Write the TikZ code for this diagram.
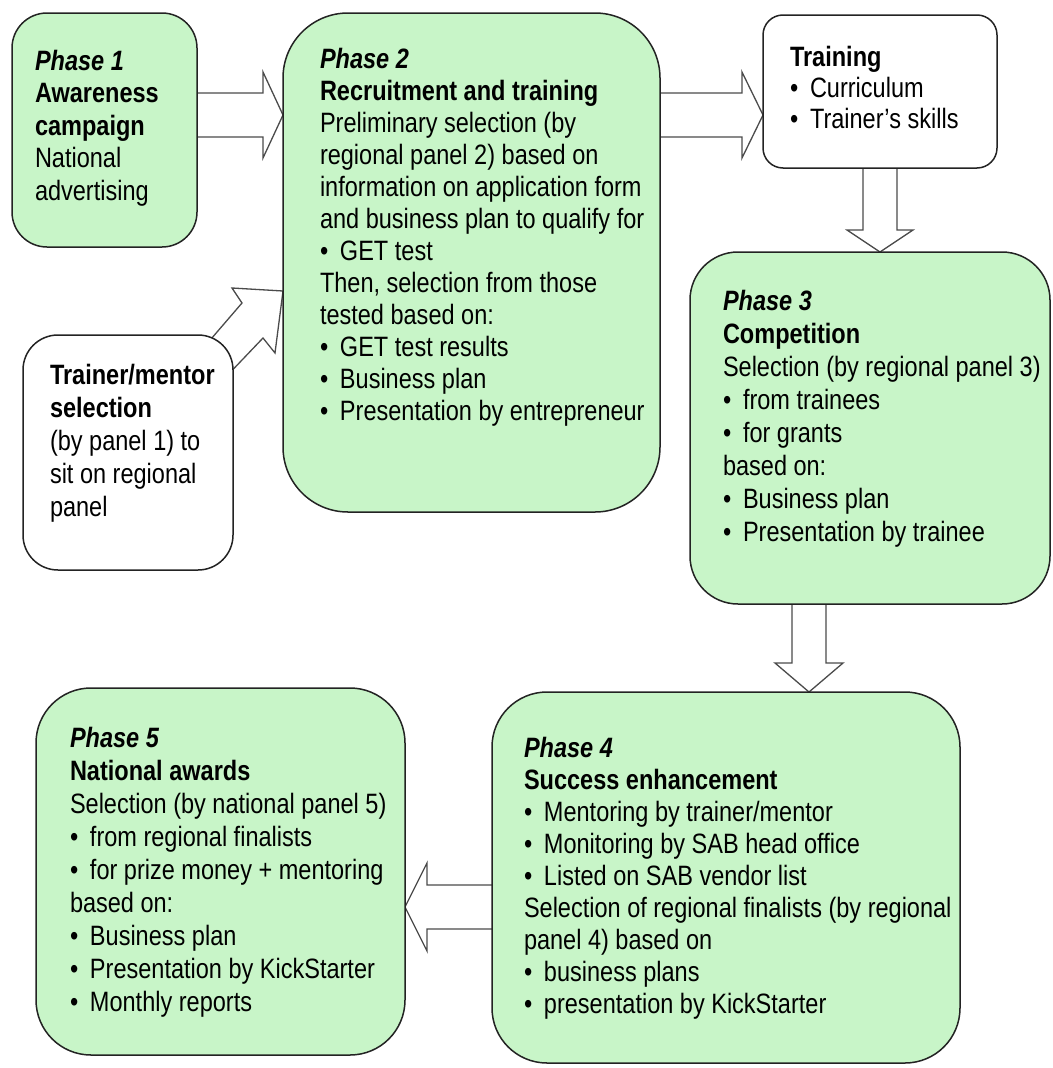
\documentclass[tikz,border=0pt]{standalone}
\usepackage{fontspec}
\setmainfont{Liberation Sans}[FakeStretch=0.84]
\usetikzlibrary{calc,backgrounds}
\definecolor{phasegreen}{RGB}{200,245,200}
\definecolor{boxedge}{RGB}{35,35,35}
\definecolor{arrowedge}{RGB}{75,75,75}
\newcommand\bul{\makebox[20pt][l]{•}}
\newcommand\ph[1]{\textbf{\textit{#1}}}
\newcommand\fr{\rule{0pt}{22pt}}
\begin{document}
\begin{tikzpicture}[x=1pt,y=-1pt,
  box/.style={rectangle, draw=boxedge, line width=1.5pt, inner sep=0pt, outer sep=0pt},
  phasebox/.style={box, fill=phasegreen},
  plainbox/.style={box, fill=white},
  blockarrow/.style={draw=arrowedge, line width=1.3pt, fill=white, line join=miter},
  txt/.style={anchor=north west, inner sep=0pt, outer sep=0pt, align=left, font=\fontsize{28}{#1}\selectfont},
]
\useasboundingbox (0,0) rectangle (1052,1068);

% boxes
\node[phasebox, rounded corners=35pt, minimum width=185pt, minimum height=234pt] (p1) at (104.5,130) {};
\node[phasebox, rounded corners=65pt, minimum width=377pt, minimum height=499pt] (p2) at (471.5,262.5) {};
\node[plainbox, rounded corners=20pt, minimum width=234pt, minimum height=153pt] (tr) at (880,91.5) {};
\node[plainbox, rounded corners=35pt, minimum width=210pt, minimum height=235pt] (tm) at (128,452.5) {};
\node[phasebox, rounded corners=48pt, minimum width=360pt, minimum height=352pt] (p3) at (870,428) {};
\node[phasebox, rounded corners=55pt, minimum width=468pt, minimum height=371pt] (p4) at (726,877.5) {};
\node[phasebox, rounded corners=55pt, minimum width=369pt, minimum height=367pt] (p5) at (220.5,871.5) {};

% texts
\node[txt=32.5] (p1t) at (35,48) {\fr\ph{Phase 1}\\ \textbf{Awareness}\\ \textbf{campaign}\\ National\\ advertising};
\node[txt=32] (p2t) at (320,46) {\fr\ph{Phase 2}\\ \textbf{Recruitment and training}\\ Preliminary selection (by\\ regional panel 2) based on\\ information on application form\\ and business plan to qualify for\\ \bul GET test\\ Then, selection from those\\ tested based on:\\ \bul GET test results\\ \bul Business plan\\ \bul Presentation by entrepreneur};
\node[txt=31] (trt) at (790,44) {\fr\textbf{Training}\\ \bul Curriculum\\ \bul Trainer’s skills};
\node[txt=33] (tmt) at (50,362) {\fr\textbf{Trainer/mentor}\\ \textbf{selection}\\ (by panel 1) to\\ sit on regional\\ panel};
\node[txt=33] (p3t) at (723,288) {\fr\ph{Phase 3}\\ \textbf{Competition}\\ Selection (by regional panel 3)\\ \bul from trainees\\ \bul for grants\\ based on:\\ \bul Business plan\\ \bul Presentation by trainee};
\node[txt=32] (p4t) at (524,735) {\fr\ph{Phase 4}\\ \textbf{Success enhancement}\\ \bul Mentoring by trainer/mentor\\ \bul Monitoring by SAB head office\\ \bul Listed on SAB vendor list\\ Selection of regional finalists (by regional\\ panel 4) based on\\ \bul business plans\\ \bul presentation by KickStarter};
\node[txt=33] (p5t) at (70,725) {\fr\ph{Phase 5}\\ \textbf{National awards}\\ Selection (by national panel 5)\\ \bul from regional finalists\\ \bul for prize money + mentoring\\ based on:\\ \bul Business plan\\ \bul Presentation by KickStarter\\ \bul Monthly reports};

% block arrows
\begin{scope}[on background layer]
  % Phase 1 -> Phase 2
  \coordinate (a1s) at (p1.east |- 0,115);
  \coordinate (a1e) at (p2.west |- 0,115);
  \filldraw[blockarrow] ($(a1s)+(0,-22)$) -- ($(a1e)+(-20,-22)$) -- ($(a1e)+(-20,-43)$) -- (a1e)
     -- ($(a1e)+(-20,43)$) -- ($(a1e)+(-20,22)$) -- ($(a1s)+(0,22)$);
  % Phase 2 -> Training
  \coordinate (a2s) at (p2.east |- 0,115);
  \coordinate (a2e) at (tr.west |- 0,115);
  \filldraw[blockarrow] ($(a2s)+(0,-22)$) -- ($(a2e)+(-21,-22)$) -- ($(a2e)+(-21,-43)$) -- (a2e)
     -- ($(a2e)+(-21,43)$) -- ($(a2e)+(-21,22)$) -- ($(a2s)+(0,22)$);
  % Training -> Phase 3
  \coordinate (a3s) at (tr.south -| 880,0);
  \coordinate (a3e) at (p3.north -| 880,0);
  \filldraw[blockarrow] ($(a3s)+(-17,0)$) -- ($(a3e)+(-17,-22)$) -- ($(a3e)+(-33,-22)$) -- (a3e)
     -- ($(a3e)+(33,-22)$) -- ($(a3e)+(17,-22)$) -- ($(a3s)+(17,0)$);
  % Phase 3 -> Phase 4
  \coordinate (a4s) at (p3.south -| 809,0);
  \coordinate (a4e) at (p4.north -| 809,0);
  \filldraw[blockarrow] ($(a4s)+(-17,0)$) -- ($(a4e)+(-17,-29)$) -- ($(a4e)+(-34,-29)$) -- (a4e)
     -- ($(a4e)+(34,-29)$) -- ($(a4e)+(17,-29)$) -- ($(a4s)+(17,0)$);
  % Phase 4 -> Phase 5
  \coordinate (a5s) at (p4.west |- 0,907);
  \coordinate (a5e) at (p5.east |- 0,907);
  \filldraw[blockarrow] ($(a5s)+(0,-22)$) -- ($(a5e)+(22,-22)$) -- ($(a5e)+(22,-44)$) -- (a5e)
     -- ($(a5e)+(22,44)$) -- ($(a5e)+(22,22)$) -- ($(a5s)+(0,22)$);
  % Trainer/mentor -> Phase 2 (diagonal)
  \coordinate (a6e) at (p2.west |- 0,291);
  \filldraw[blockarrow] (205,346) -- (242,303) -- (232,288) -- (a6e) -- (275,353) -- (263,338) -- (222,381);
\end{scope}
\end{tikzpicture}
\end{document}
